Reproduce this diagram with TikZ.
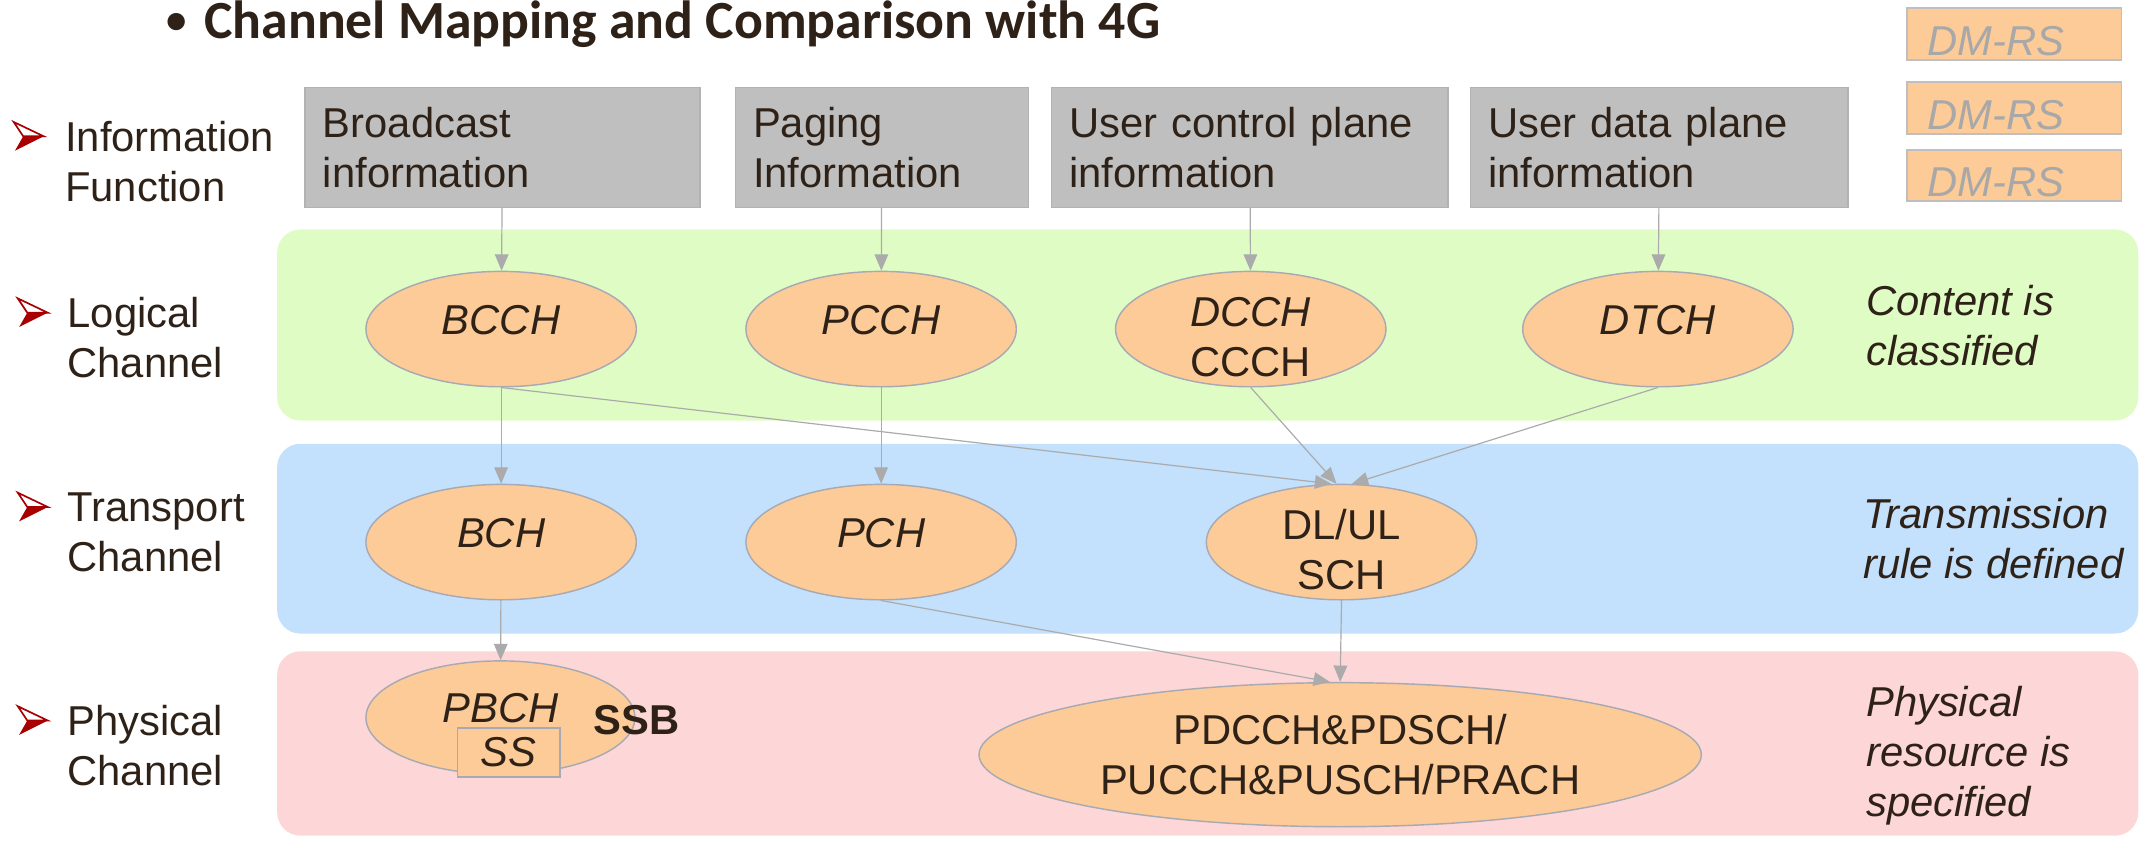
\documentclass[tikz,border=0pt]{standalone}
\usepackage{fontspec}
\setmainfont{Liberation Sans}
\newfontfamily\titlefont{Carlito}
\usetikzlibrary{arrows.meta,shapes.geometric}

\definecolor{txt}{HTML}{2E2218}
\definecolor{peach}{HTML}{FDCB97}
\definecolor{rim}{HTML}{A7A9B3}
\definecolor{boxgrey}{HTML}{BFBFBF}
\definecolor{boxrim}{HTML}{B2B2B2}
\definecolor{linkgrey}{HTML}{ABABAB}
\definecolor{bandgreen}{HTML}{E0FCC5}
\definecolor{bandblue}{HTML}{C3E0FC}
\definecolor{bandpink}{HTML}{FDD6D7}
\definecolor{bulred}{HTML}{A80000}
\definecolor{rsgrey}{HTML}{A8A8A8}

\newcommand{\chfont}{\fontsize{8.7pt}{10.4pt}\selectfont}
\newcommand{\tallstrut}{\rule{0pt}{3.3mm}}

\begin{document}
\begin{tikzpicture}[x=0.1mm, y=-0.1mm, >={Triangle[length=1.2mm, width=1mm]},
  every node/.style={text=txt, font=\chfont, inner sep=0pt},
  info/.style={draw=boxrim, fill=boxgrey, line width=0.3pt, anchor=north west,
    align=left, inner xsep=1.3mm, minimum height=8.79mm},
  chan/.style={ellipse, draw=rim, fill=peach, line width=0.3pt,
    minimum width=19.8mm, minimum height=8.45mm, align=center},
  oneline/.style={text height=2.2mm, text depth=1.45mm},
  lowtext/.style={inner ysep=-0.55mm},
  link/.style={->, draw=linkgrey, line width=0.25pt},
  dmrs/.style={draw=boxgrey, fill=peach, line width=0.4pt, anchor=north west,
    minimum height=3.78mm, text width=12.7mm, inner xsep=1.5mm, align=left,
    text height=3.1mm, text depth=0mm, text=rsgrey, font=\chfont\itshape},
  side/.style={anchor=west, align=left},
  note/.style={anchor=west, align=left, font=\chfont\itshape},
  bul/.pic={
    \fill[bulred] (-4,0) -- (11,0) -- (-10,10.5) -- cycle;
    \filldraw[draw=bulred, fill=white, line width=0.35pt] (-11,-10.5) -- (11,0) -- (-4,0) -- cycle;
  }]
  \useasboundingbox (0,0) rectangle (1568,616);

  % layers
  \fill[bandgreen, rounded corners=1.7mm] (203,168) rectangle (1566,308);
  \fill[bandblue, rounded corners=1.7mm] (203,325) rectangle (1566,464);
  \fill[bandpink, rounded corners=1.7mm] (203,477) rectangle (1566,612);

  % title
  \node[anchor=base west, font=\titlefont\bfseries\fontsize{11.2pt}{14pt}\selectfont] (title) at (121.5,28)
    {\raisebox{0.36mm}{\fontsize{8.5pt}{10pt}\selectfont •}\hspace{1.26mm}Channel Mapping and Comparison with 4G};

  % DM-RS boxes
  \node[dmrs] (rs1) at (1396,5.4) {DM-RS};
  \node[dmrs] (rs2) at (1396,59.5) {DM-RS};
  \node[dmrs] (rs3) at (1396,109) {DM-RS};

  % left column
  \pic at (21,99.8) {bul};
  \pic at (24,229) {bul};
  \pic at (24,371.3) {bul};
  \pic at (24,527.7) {bul};
  \node[side] (lInfo) at (47.1,118) {Information\\Function};
  \node[side] (lLog) at (48.8,247) {Logical\\Channel};
  \node[side] (lTr) at (48.8,389.6) {Transport\\Channel};
  \node[side] (lPhy) at (48.8,546) {Physical\\Channel};

  % information
  \node[info, text width=26.3mm] (b1) at (223,63.5) {Broadcast\\information};
  \node[info, text width=18.86mm] (b2) at (538,63.5) {Paging\\Information};
  \node[info, text width=26.43mm] (b3) at (769.7,63.5) {User control plane\\information};
  \node[info, text width=25.05mm] (b4) at (1076.5,63.5) {User data plane\\information};

  % logical
  \node[chan, oneline, font=\chfont\itshape] (bcch) at (367,241) {BCCH};
  \node[chan, oneline, font=\chfont\itshape] (pcch) at (645.3,241) {PCCH};
  \node[chan, lowtext] (dcch) at (916,241) {\tallstrut\textit{DCCH}\\CCCH};
  \node[chan, oneline, font=\chfont\itshape] (dtch) at (1214.2,241) {DTCH};

  % transport
  \node[chan, oneline, font=\chfont\itshape] (bch) at (367,397) {BCH};
  \node[chan, oneline, font=\chfont\itshape] (pch) at (645.3,397) {PCH};
  \node[chan, lowtext] (dlsch) at (982.5,397) {\tallstrut DL/UL\\SCH};

  % physical
  \node[chan, oneline, font=\chfont\itshape, minimum width=19.7mm, minimum height=8.3mm] (pbch) at (366.5,525.5) {PBCH};
  \node[draw=rim, fill=peach, line width=0.3pt, minimum width=7.5mm, minimum height=3.6mm,
    font=\chfont\itshape] (ss) at (372.5,551) {SS};
  \node[anchor=base west, font=\chfont\bfseries] (ssb) at (434,537.8) {SSB};
  \node[chan, minimum width=52.9mm, minimum height=10.55mm] (pd) at (981.5,552.7)
    {PDCCH\&PDSCH/\\PUCCH\&PUSCH/PRACH};

  % notes
  \node[note] (n1) at (1366,238.2) {Content is\\classified};
  \node[note] (n2) at (1364,394.6) {Transmission\\rule is defined};
  \node[note] (n3) at (1366,553.5) {Physical\\resource is\\specified};

  % mapping
  \draw[link] (b1) -- (bcch);
  \draw[link] (b2) -- (pcch);
  \draw[link] (b3) -- (dcch);
  \draw[link] (b4) -- (dtch);
  \draw[link] (bcch) -- (bch);
  \draw[link] (bcch.south) -- (dlsch.100);
  \draw[link] (pcch) -- (pch);
  \draw[link] (dcch.south) -- (dlsch.95);
  \draw[link] (dtch.south) -- (dlsch.80);
  \draw[link] (bch) -- (pbch);
  \draw[link] (pch.south) -- (pd.98);
  \draw[link] (dlsch.south) -- (pd.north);
\end{tikzpicture}
\end{document}
